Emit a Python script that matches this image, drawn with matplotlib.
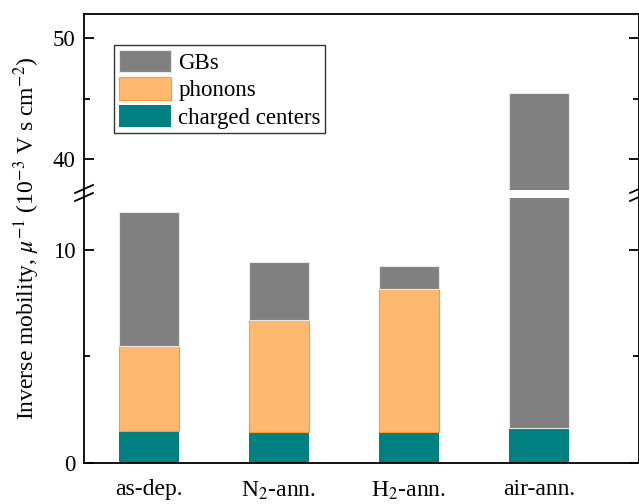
import numpy as np
import matplotlib.pyplot as plt
from matplotlib.lines import Line2D
from matplotlib.ticker import MultipleLocator

plt.rcParams['font.family'] = ['Liberation Serif', 'DejaVu Serif']
plt.rcParams['mathtext.fontset'] = 'stix'

# Données (10^-3 V s cm^-2)
samples = ['as-dep.', 'N$_2$-ann.', 'H$_2$-ann.', 'air-ann.']
charged = [1.49, 1.43, 1.43, 1.64]
phonons = [3.99, 5.26, 6.72, 0.0]
gbs = [6.28, 2.73, 1.10, 43.81]

c_gb = '#808080'
c_ph = '#FFB870'
c_ch = '#008080'

x = np.arange(len(samples))
width = 0.46
bottom_ph = np.array(charged)
bottom_gb = bottom_ph + np.array(phonons)

fig = plt.figure(figsize=(6.39, 5.04), dpi=100)
ax_top = fig.add_axes([84/639, 1 - 190/504, 1 - 84/639, 176/504])
ax_bot = fig.add_axes([84/639, 1 - 462.7/504, 1 - 84/639, 264.7/504])

# Barres empilées dans les deux parties de l'axe
for ax in (ax_top, ax_bot):
    ax.bar(x, charged, width, color=c_ch, edgecolor='none', label='charged centers')
    ax.bar(x, phonons, width, bottom=bottom_ph, color=c_ph, edgecolor='#FF9933',
           linewidth=0.8, label='phonons')
    ax.bar(x, gbs, width, bottom=bottom_gb, color=c_gb, edgecolor='#E8E8E8',
           linewidth=0.8, label='GBs')
    ax.set_xlim(-0.5, 3.77)
    ax.tick_params(axis='y', which='both', direction='in', left=True, right=True,
                   labelsize=16.5, width=1.3, pad=6)
    ax.tick_params(axis='y', which='major', length=7)
    ax.tick_params(axis='y', which='minor', length=4)
    for s in ax.spines.values():
        s.set_linewidth(1.3)

ax_bot.set_ylim(0, 12.43)
ax_bot.yaxis.set_major_locator(MultipleLocator(10))
ax_bot.yaxis.set_minor_locator(MultipleLocator(5))
ax_top.set_ylim(37.48, 51.95)
ax_top.yaxis.set_major_locator(MultipleLocator(10))
ax_top.yaxis.set_minor_locator(MultipleLocator(5))

ax_top.spines['bottom'].set_visible(False)
ax_bot.spines['top'].set_visible(False)
ax_top.set_xticks([])
ax_bot.set_xticks(x)
ax_bot.set_xticklabels(samples, fontsize=17)
ax_bot.tick_params(axis='x', length=0, pad=12)

# Raccord des axes verticaux + marques de coupure
for xf in (84/639, 1.0):
    fig.add_artist(Line2D([xf, xf], [1 - 198/504, 1 - 190/504], color='black', lw=1.3))
    for yc in (189, 197):
        fig.add_artist(Line2D([xf - 9/639, xf + 9/639],
                              [1 - (yc + 4)/504, 1 - (yc - 4)/504],
                              color='black', lw=1.3))

# Légende
handles, labels = ax_top.get_legend_handles_labels()
leg = ax_top.legend(handles[::-1], labels[::-1], loc='upper left',
                    bbox_to_anchor=(0.054, 0.824), borderaxespad=0, fontsize=16.5,
                    handlelength=2.3, handleheight=1.15, handletextpad=0.3,
                    labelspacing=0.15, borderpad=0.2, fancybox=False,
                    edgecolor='#333333', framealpha=1)
leg.get_frame().set_linewidth(1.0)

fig.text(27/639, 1 - 238/504,
         'Inverse mobility, $\\mu^{-1}$ (10$^{-3}$ V s cm$^{-2}$)',
         rotation=90, ha='center', va='center', fontsize=17)

plt.savefig('out.png', dpi=100)
